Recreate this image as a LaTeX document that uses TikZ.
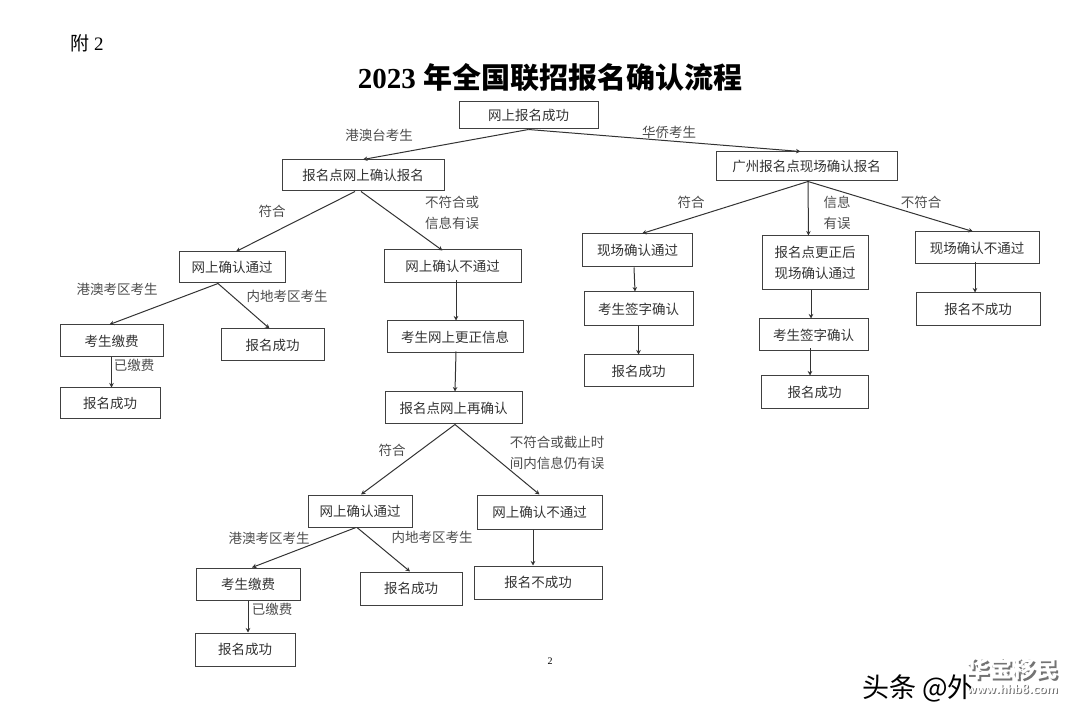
\documentclass[tikz,border=0pt]{standalone}
\usepackage{fontspec}
\setmainfont{Liberation Serif}
\newfontfamily\cjk{Noto Sans CJK SC}
\usetikzlibrary{positioning,arrows.meta,shapes}

\tikzset{
  flowbox/.style={draw=black!75, line width=1pt, fill=white, inner sep=0pt, align=center, text=black!80,
    font=\cjk\fontsize{13.5}{20.5}\selectfont},
  flowline/.style={draw=black!80, line width=1pt, -{Stealth[length=4.5pt,width=4.5pt]}},
  edgetext/.style={inner sep=0pt, align=center, text=black!70, font=\cjk\fontsize{13.5}{20.5}\selectfont},
}

\begin{document}
\begin{tikzpicture}[x=1pt,y=-1pt]
        \useasboundingbox (0,0) rectangle (1080,711);

        % Heading
        \node[inner sep=0pt, font=\fontsize{19}{21}\selectfont] (annex) at (87,43) {{\cjk 附} 2};
        \node[inner sep=0pt, font=\fontsize{29}{32}\selectfont\bfseries] (title) at (550,78) {2023 {\cjk 年全国联招报名确认流程}};
        \node[inner sep=0pt, font=\fontsize{10}{12}\selectfont] (pageno) at (550,661) {2};

        % Top of the tree
        \node[flowbox, minimum width=139pt, minimum height=27pt] (start) at (528.5,115.5) {\raisebox{-1.5pt}{网上报名成功}};
        \node[flowbox, minimum width=162pt, minimum height=31pt] (hkconfirm) at (363,175.5) {报名点网上确认报名};
        \node[flowbox, minimum width=181pt, minimum height=29pt] (gzconfirm) at (806.5,166.5) {广州报名点现场确认报名};

        % Left branch
        \node[flowbox, minimum width=106pt, minimum height=31pt] (passa) at (232,267.5) {网上确认通过};
        \node[flowbox, minimum width=137pt, minimum height=33pt] (faila) at (452.5,266.5) {网上确认不通过};
        \node[flowbox, minimum width=103pt, minimum height=32pt] (paya) at (111.5,341) {考生缴费};
        \node[flowbox, minimum width=103pt, minimum height=32pt] (oka) at (272.5,345) {报名成功};
        \node[flowbox, minimum width=100pt, minimum height=31pt] (okb) at (110,403.5) {报名成功};
        \node[flowbox, minimum width=136pt, minimum height=32pt] (fix) at (455,337) {考生网上更正信息};
        \node[flowbox, minimum width=137pt, minimum height=32pt] (recheck) at (453.5,408) {报名点网上再确认};

        % Second round
        \node[flowbox, minimum width=104pt, minimum height=32pt] (passb) at (360,511) {网上确认通过};
        \node[flowbox, minimum width=125pt, minimum height=34pt] (failb) at (539.5,512) {网上确认不通过};
        \node[flowbox, minimum width=104pt, minimum height=32pt] (payb) at (248,584) {考生缴费};
        \node[flowbox, minimum width=102pt, minimum height=33pt] (okc) at (411,588.5) {报名成功};
        \node[flowbox, minimum width=128pt, minimum height=33pt] (nook) at (538,582.5) {报名不成功};
        \node[flowbox, minimum width=100pt, minimum height=33pt] (okd) at (245,649.5) {报名成功};

        % Right branch
        \node[flowbox, minimum width=110pt, minimum height=33pt] (sitepass) at (637.5,250.5) {现场确认通过};
        \node[flowbox, minimum width=109pt, minimum height=34pt] (signa) at (638.5,309) {考生签字确认};
        \node[flowbox, minimum width=109pt, minimum height=32pt] (oke) at (638.5,371) {报名成功};
        \node[flowbox, minimum width=106pt, minimum height=54pt] (sitefix) at (815,263) {报名点更正后\\现场确认通过};
        \node[flowbox, minimum width=109pt, minimum height=32pt] (signb) at (813.5,335) {考生签字确认};
        \node[flowbox, minimum width=107pt, minimum height=33pt] (okf) at (814.5,392.5) {报名成功};
        \node[flowbox, minimum width=124pt, minimum height=32pt] (sitefail) at (977,248) {现场确认不通过};
        \node[flowbox, minimum width=124pt, minimum height=33pt] (nookb) at (978,309.5) {报名不成功};

        % Connectors
        \draw[flowline] (start.south) -- (hkconfirm.north);
        \draw[flowline] (start.south) -- ([xshift=-6pt]gzconfirm.north);
        \draw[flowline] ([xshift=-8pt]hkconfirm.south) -- ([xshift=4pt]passa.north);
        \draw[flowline] ([xshift=-2pt]hkconfirm.south) -- ([xshift=-10pt,yshift=-1pt]faila.north);
        \draw[flowline] ([xshift=-14pt]passa.south) -- ([xshift=-2pt]paya.north);
        \draw[flowline] ([xshift=-14pt]passa.south) -- ([xshift=-3pt]oka.north);
        \draw[flowline] (paya.south) -- ([xshift=1.5pt]okb.north);
        \draw[flowline] ([xshift=3.5pt,yshift=3pt]faila.south) -- ([xshift=1pt]fix.north);
        \draw[flowline] ([xshift=1pt,yshift=2pt]fix.south) -- ([xshift=1.5pt]recheck.north);
        \draw[flowline] ([xshift=1.5pt]recheck.south) -- ([xshift=1pt]passb.north);
        \draw[flowline] ([xshift=1.5pt]recheck.south) -- (failb.north);
        \draw[flowline] ([xshift=-4pt]passb.south) -- ([xshift=4pt]payb.north);
        \draw[flowline] ([xshift=-3pt]passb.south) -- ([xshift=-1pt]okc.north);
        \draw[flowline] ([xshift=-6.5pt]failb.south) -- ([xshift=-5pt]nook.north);
        \draw[flowline] (payb.south) -- ([xshift=3pt]okd.north);
        \draw[flowline] ([xshift=1.5pt]gzconfirm.south) -- ([xshift=4.5pt]sitepass.north);
        \draw[flowline] ([xshift=1.5pt]gzconfirm.south) -- ([xshift=-6.5pt]sitefix.north);
        \draw[flowline] ([xshift=1.5pt]gzconfirm.south) -- ([xshift=-4pt]sitefail.north);
        \draw[flowline] ([xshift=-3.5pt]sitepass.south) -- ([xshift=-3.5pt]signa.north);
        \draw[flowline] (signa.south) -- (oke.north);
        \draw[flowline] ([xshift=-4pt]sitefix.south) -- ([xshift=-2.5pt]signb.north);
        \draw[flowline] ([xshift=-3.5pt,yshift=3pt]signb.south) -- ([xshift=-4.5pt]okf.north);
        \draw[flowline] ([xshift=-2pt,yshift=2pt]sitefail.south) -- ([xshift=-3pt]nookb.north);

        % Labels on the connectors
        \node[edgetext] (lhk) at (379,135) {港澳台考生};
        \node[edgetext] (lqiao) at (669,132) {华侨考生};
        \node[edgetext] (lfita) at (272,211) {符合};
        \node[edgetext] (lerra) at (452,213) {不符合或\\信息有误};
        \node[edgetext] (lhkzone) at (117,289) {港澳考区考生};
        \node[edgetext] (lmainland) at (287,296) {内地考区考生};
        \node[edgetext] (lpaida) at (134,365) {已缴费};
        \node[edgetext] (lfitb) at (392,450) {符合};
        \node[edgetext] (lerrb) at (557,453) {不符合或截止时\\间内信息仍有误};
        \node[edgetext] (lhkzoneb) at (269,538) {港澳考区考生};
        \node[edgetext] (lmainlandb) at (432,537) {内地考区考生};
        \node[edgetext] (lpaidb) at (272,609) {已缴费};
        \node[edgetext] (lfitc) at (691,202) {符合};
        \node[edgetext] (lerrc) at (837,213) {信息\\有误};
        \node[edgetext] (lnofit) at (921,202) {不符合};

        % Corner marks
        \node[inner sep=0pt, font=\cjk\fontsize{27}{29}\selectfont] (markblack) at (918.5,688) {头条 @外};
        \node[inner sep=0pt, text=black!55, font=\cjk\bfseries\fontsize{23}{25}\selectfont] (markshade) at (1014,670.5) {华宝移民};
        \node[inner sep=0pt, text=white, font=\cjk\bfseries\fontsize{23}{25}\selectfont] (markwhite) at (1012,668.5) {华宝移民};
        \node[inner sep=0pt, text=black!55, font=\sffamily\bfseries\fontsize{13}{14}\selectfont] (urlshade) at (1013.5,690) {www.hhb8.com};
        \node[inner sep=0pt, text=white, font=\sffamily\bfseries\fontsize{13}{14}\selectfont] (urlwhite) at (1012.5,689) {www.hhb8.com};
    \end{tikzpicture}
\end{document}
